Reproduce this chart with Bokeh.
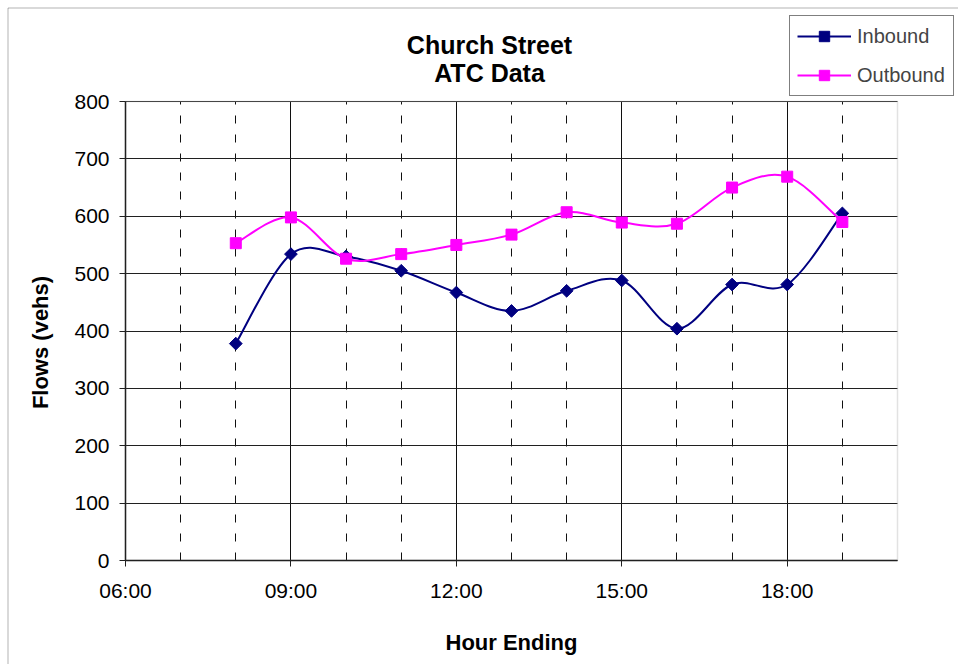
import math

from bokeh.plotting import figure
from bokeh.models import (Range1d, FixedTicker, Legend, LegendItem,
                          PolyAnnotation, BoxAnnotation, Label)
from bokeh.embed import file_html
from bokeh.resources import INLINE

# Hourly ATC counts (hour ending)
hours = [8, 9, 10, 11, 12, 13, 14, 15, 16, 17, 18, 19]
inbound = [378, 534, 530, 505, 467, 435, 470, 488, 404, 481, 481, 605]
outbound = [553, 598, 526, 534, 550, 568, 607, 589, 587, 650, 669, 590]

x_tick_hours = [6, 9, 12, 15, 18]
x_tick_labels = ["06:00", "09:00", "12:00", "15:00", "18:00"]
x_minor_hours = [7, 8, 10, 11, 13, 14, 16, 17, 19]
y_ticks = [0, 100, 200, 300, 400, 500, 600, 700, 800]

X_MIN, X_MAX = 6, 20
Y_MIN, Y_MAX = 0, 800

FONT = "Liberation Sans"
NAVY = "#000080"
MAGENTA = "#FF00FF"

W, H = 958, 664
# plot-area box on the page (left, right, top, bottom)
PL, PR, PT, PB = 125, 897, 101, 560


def smooth_segments(xs, ys):
    """Cubic Bezier segments (Catmull-Rom style) through every point."""
    n = len(xs)
    seg = dict(x0=[], y0=[], x1=[], y1=[], cx0=[], cy0=[], cx1=[], cy1=[])
    for i in range(n - 1):
        a = max(i - 1, 0)
        b = min(i + 2, n - 1)
        seg["x0"].append(xs[i])
        seg["y0"].append(ys[i])
        seg["x1"].append(xs[i + 1])
        seg["y1"].append(ys[i + 1])
        seg["cx0"].append(xs[i] + (xs[i + 1] - xs[a]) / 6.0)
        seg["cy0"].append(ys[i] + (ys[i + 1] - ys[a]) / 6.0)
        seg["cx1"].append(xs[i + 1] - (xs[b] - xs[i]) / 6.0)
        seg["cy1"].append(ys[i + 1] - (ys[b] - ys[i]) / 6.0)
    return seg


# The frame covers the whole page; ranges are padded so the data box
# lands on the plot area, leaving room for title, legend and axes.
kx = (PR - PL) / (X_MAX - X_MIN)
ky = (PB - PT) / (Y_MAX - Y_MIN)
x_range = Range1d(X_MIN - PL / kx, X_MAX + (W - PR) / kx)
y_range = Range1d(Y_MIN - (H - PB) / ky, Y_MAX + PT / ky)

p = figure(width=W, height=H, output_backend="svg", toolbar_location=None,
           x_range=x_range, y_range=y_range, min_border=0,
           background_fill_color="white", border_fill_color="white")
p.title.visible = False
p.outline_line_color = None

# Axes pinned to the data box
xticker = FixedTicker(ticks=x_tick_hours, minor_ticks=x_minor_hours)
yticker = FixedTicker(ticks=y_ticks)
p.xaxis.ticker = xticker
p.yaxis.ticker = yticker
p.xaxis.fixed_location = Y_MIN
p.yaxis.fixed_location = X_MIN
p.xaxis.bounds = (X_MIN, X_MAX)
p.yaxis.bounds = (Y_MIN, Y_MAX)
p.xaxis.major_label_overrides = {h: lab for h, lab in zip(x_tick_hours, x_tick_labels)}

for ax in (p.xaxis[0], p.yaxis[0]):
    ax.major_tick_in = 0
    ax.major_tick_out = 6
    ax.minor_tick_in = 0
    ax.minor_tick_out = 0
    ax.major_tick_line_color = "#202020"
    ax.axis_line_color = "#202020"
    ax.axis_line_width = 1.5
    ax.major_label_text_font = FONT
    ax.major_label_text_font_size = "21px"
    ax.major_label_text_color = "black"
    ax.axis_label_text_font = FONT
    ax.axis_label_text_font_size = "22px"
    ax.axis_label_text_font_style = "bold"
    ax.axis_label_text_color = "black"

p.xaxis.major_label_standoff = 12
p.yaxis.major_label_standoff = 10
p.xaxis.axis_label = "Hour Ending"
p.xaxis.axis_label_standoff = 25

# Grid: solid major lines, dashed hourly lines, kept inside the data box
p.xgrid.ticker = xticker
p.ygrid.ticker = yticker
p.xgrid.bounds = (X_MIN, X_MAX)
p.ygrid.bounds = (Y_MIN, Y_MAX)
p.xgrid.cross_bounds = (Y_MIN, Y_MAX)
p.ygrid.cross_bounds = (X_MIN, X_MAX)
p.xgrid.grid_line_color = "#101010"
p.ygrid.grid_line_color = "#202020"
p.xgrid.grid_line_width = 1
p.ygrid.grid_line_width = 1.2
p.xgrid.minor_grid_line_color = "#101010"
p.xgrid.minor_grid_line_dash = "8 11"
p.xgrid.minor_grid_line_width = 1

# Plot-area border (gray top / right edges)
p.add_layout(BoxAnnotation(left=X_MIN, right=X_MAX, bottom=Y_MIN, top=Y_MAX,
                           fill_alpha=0, line_color="#a0a0a0", line_width=1.5,
                           level="underlay"))

# Series
in_seg = smooth_segments(hours, inbound)
out_seg = smooth_segments(hours, outbound)

in_line = p.bezier(line_color=NAVY, line_width=2, **in_seg)
in_pts = p.scatter(hours, inbound, marker="square", angle=math.pi / 4, size=9,
                   fill_color=NAVY, line_color=NAVY)
out_line = p.bezier(line_color=MAGENTA, line_width=2, **out_seg)
out_pts = p.scatter(hours, outbound, marker="square", size=11,
                    fill_color=MAGENTA, line_color=MAGENTA)

legend = Legend(
    items=[LegendItem(label="Inbound", renderers=[in_line, in_pts]),
           LegendItem(label="Outbound", renderers=[out_line, out_pts])],
    location=(789, H - 96), margin=0, padding=7, spacing=13,
    glyph_width=54, glyph_height=26, label_height=26, label_width=89,
    label_standoff=6,
    label_text_font=FONT, label_text_font_size="20px",
    border_line_color="black", border_line_width=1,
    background_fill_color="white", background_fill_alpha=1.0)
p.add_layout(legend)

# Two-line chart title
for txt, base in (("Church Street", 44), ("ATC Data", 72)):
    p.add_layout(Label(x=489, y=H - base, x_units="screen", y_units="screen",
                       text=txt, text_align="center", text_baseline="alphabetic",
                       text_font=FONT, text_font_style="bold",
                       text_font_size="25px", text_color="black"))

# Vertical axis title
p.add_layout(Label(x=40, y=H - 342, x_units="screen", y_units="screen",
                   angle=math.pi / 2, text="Flows (vehs)",
                   text_align="center", text_baseline="middle",
                   text_font=FONT, text_font_style="bold",
                   text_font_size="22px", text_color="black"))

# Chart-area border (left and top edges)
p.add_layout(PolyAnnotation(xs=[7.5, 7.5, 2000, 2000], ys=[-100, H - 7.5, H - 7.5, -100],
                            xs_units="screen", ys_units="screen",
                            fill_alpha=0, line_color="black", line_width=1))

open("out.html", "w").write(file_html(p, INLINE))
